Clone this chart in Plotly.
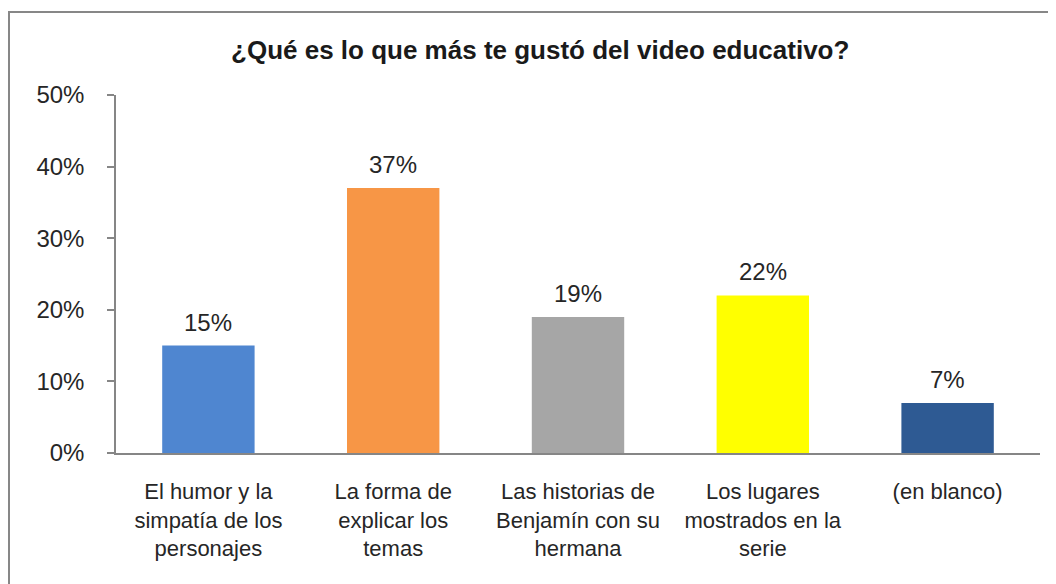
import plotly.graph_objects as go

categories = [
    "El humor y la<br>simpatía de los<br>personajes",
    "La forma de<br>explicar los<br>temas",
    "Las historias de<br>Benjamín con su<br>hermana",
    "Los lugares<br>mostrados en la<br>serie",
    "(en blanco)",
]
values = [15, 37, 19, 22, 7]
colors = ["#4F86D0", "#F79646", "#A6A6A6", "#FFFF00", "#2E5A93"]
y_ticks = [0, 10, 20, 30, 40, 50]
y_tick_text = [f"{t}%" for t in y_ticks]

FONT = "Arial, Liberation Sans, sans-serif"

fig = go.Figure(go.Bar(
    x=categories,
    y=values,
    marker=dict(color=colors, line=dict(width=0)),
    hoverinfo="x+y",
))

for c, v in zip(categories, values):
    fig.add_annotation(
        x=c, y=v, text=f"{v}%", showarrow=False,
        yanchor="bottom", yshift=8,
        font=dict(family=FONT, size=24, color="#262626"),
    )

fig.update_layout(
    width=1056, height=584,
    margin=dict(l=108, r=24, t=87, b=139),
    paper_bgcolor="white", plot_bgcolor="white",
    bargap=0.5,
    showlegend=False,
    title=dict(
        text="<b>¿Qué es lo que más te gustó del video educativo?</b>",
        x=0.504, xanchor="center", y=0.928, yanchor="middle",
        font=dict(family=FONT, size=26, color="#1a1a1a"),
    ),
    font=dict(family=FONT, color="#262626"),
)

fig.update_yaxes(
    range=[0, 50], tickvals=y_ticks, ticktext=y_tick_text,
    showgrid=False, zeroline=False,
    showline=True, linecolor="#868686", linewidth=1.5,
    ticks="outside", ticklen=7, tickcolor="#868686", tickwidth=1.5,
    ticklabelstandoff=18,
    tickfont=dict(family=FONT, size=24, color="#262626"),
)
fig.update_xaxes(
    showgrid=False,
    showline=True, linecolor="#868686", linewidth=1.5,
    ticks="", ticklabelstandoff=18,
    tickfont=dict(family=FONT, size=22, color="#262626"),
)

# outer chart border
fig.add_shape(
    type="rect", xref="paper", yref="paper",
    x0=-0.1158, x1=1.05, y0=-0.45, y1=1.2318,
    line=dict(color="#878787", width=2), fillcolor="rgba(0,0,0,0)",
    layer="below",
)

fig.write_html("out.html")
